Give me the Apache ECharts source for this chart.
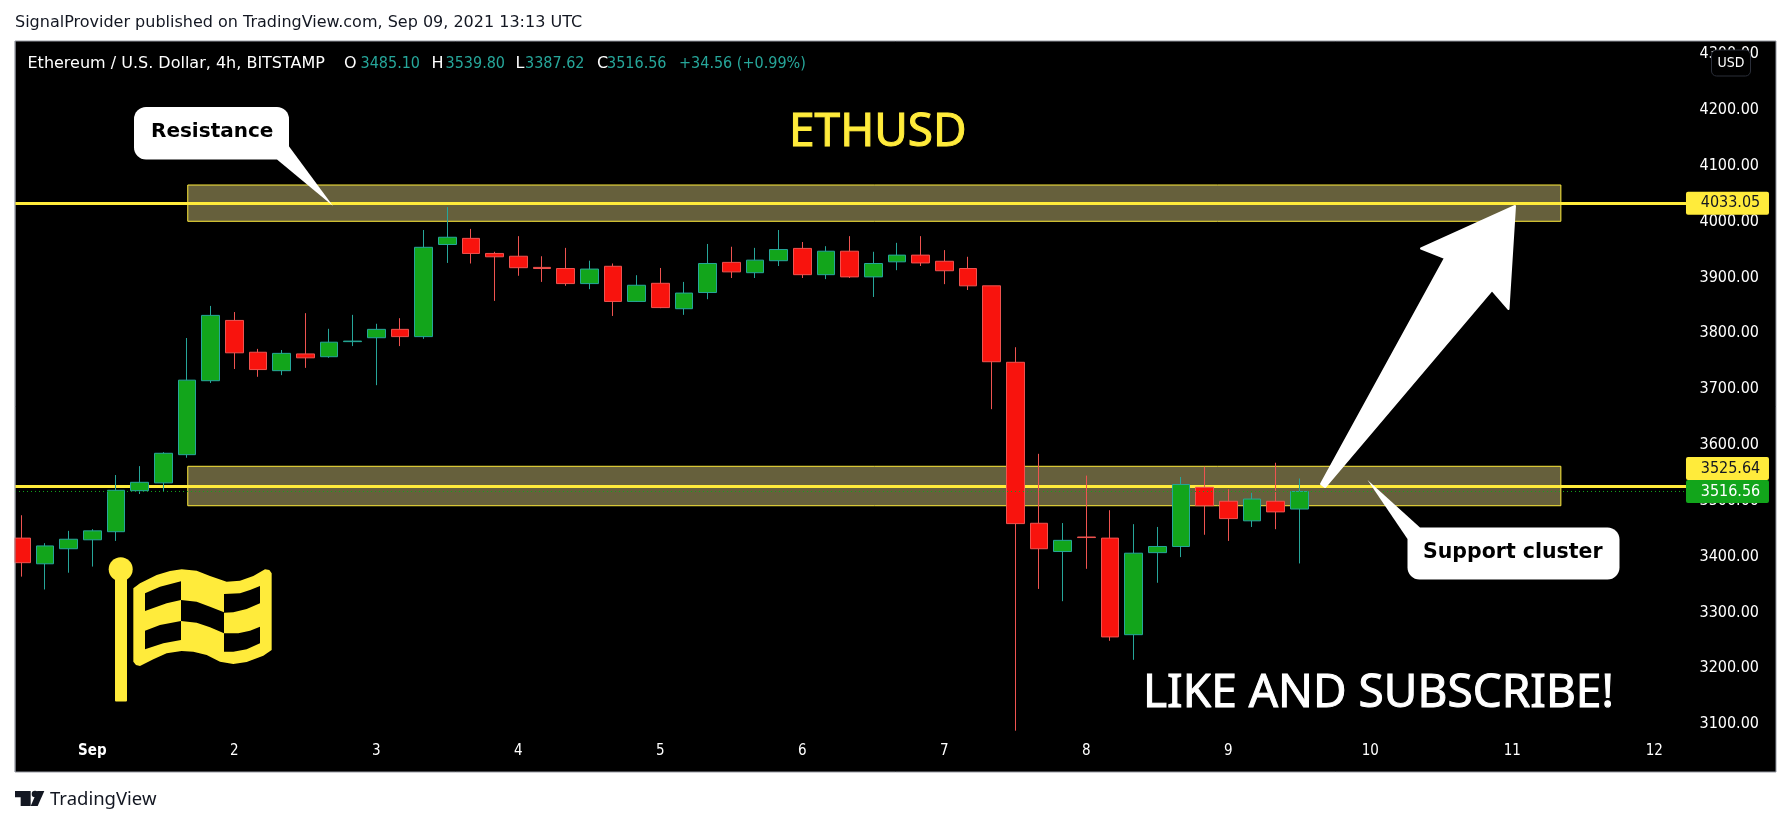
<!DOCTYPE html>
<html><head><meta charset="utf-8">
<style>html,body{margin:0;padding:0;background:#fff}#c{width:1791px;height:826px}</style>
<script src="https://cdn.jsdelivr.net/npm/echarts@6/dist/echarts.min.js"></script>
</head><body><div id="c"></div>
<script>
// 4h candles, first one at 31 Aug 12:00; index = candle number
const opens  = [3433,3387,3414,3430,3444.5,3518,3532,3582.5,3715,3823,3766,3733,3763,3758,3785,3792,3807,3794,3959,3970,3943,3938,3918,3916,3889,3920,3857,3889.5,3844,3873,3927,3908.5,3930,3952,3905,3947,3901,3928,3940,3929,3916,3885,3748,3459.6,3409,3435,3433,3260,3407,3418,3524,3499,3464,3499,3485.10];
const closes = [3389,3419,3431,3446,3518.7,3533,3585,3716,3832,3765,3735,3764,3756,3784,3786,3807,3794,3954,3972,3943,3937,3917.5,3916,3889,3915,3857,3886,3846,3872,3925,3910,3931,3950,3905,3947,3901,3925,3940,3926,3912,3885,3749,3459,3414,3429,3434,3256,3406,3418,3529,3491,3468,3503,3480,3516.56];
const lows   = [3364,3341,3371,3382,3428,3512,3517,3577,3711,3736,3722,3725,3738,3756,3777,3707,3777,3790,3926,3925,3858,3903,3892,3885,3879,3831,3856,3845,3833,3861,3899,3899,3920.5,3899,3897,3899,3865,3913,3920.5,3888,3877.5,3664,3088,3342,3320,3378,3249,3215,3353,3399,3439,3428,3453,3449,3387.62];
const highs  = [3474,3424,3446,3449,3546,3562,3587,3791.5,3849,3838,3772,3770,3836,3808,3833,3817,3827,3985,4026,3987,3946,3974,3938,3953,3930,3925,3904,3917,3892,3960,3955,3953,3985,3963.5,3956,3974,3946,3962,3974,3949,3937,3885,3775,3584,3460,3545,3483,3458,3453,3542.5,3561,3520.5,3514,3568,3539.80];
const dayTicks  = [3,9,15,21,27,33,39,45,51,57,63,69];
const dayLabels = ['Sep','2','3','4','5','6','7','8','9','10','11','12'];
const priceTicks = [3100,3200,3300,3400,3500,3600,3700,3800,3900,4000,4100,4200,4300];
const resistanceLevel = 4033.05;
const supportLevel = 3525.64;
const lastPrice = 3516.56;
const resistanceZone = [4000.6,4065.6];
const supportZone = [3491,3561.7];
const zoneSpan = [7.03,65.05];
const lineEnd = 70.34;
const tagX = 72.09;

const YEL='#ffeb3b', GRN='#12a51b', RED='#f8130d', FONT='"DejaVu Sans"', COND='"DejaVu Sans Condensed","DejaVu Sans"';
const candles = opens.map((o,i)=>[i,o,closes[i],lows[i],highs[i]]);
const zm = (pts,ox,oy)=>pts.map(p=>[p[0]/3+ox,p[1]/3+oy]);
const txt=(x,y,text,o={})=>({type:'text',x,y,z:100,silent:true,style:Object.assign({text,fill:'#fff',font:'16px '+FONT,textAlign:'left',textVerticalAlign:'middle'},o)});
const poly=(points,fill,extra={})=>({type:'polygon',z:extra.z||100,silent:true,shape:{points},style:Object.assign({fill},extra.style||{})});
const num={fill:'#26a69a',font:'16px '+COND};

const flagOuter=[[400,145],[420,130],[470,105],[510,93],[545,88],[590,92],[630,108],[680,125],[720,122],[760,108],[795,88],[808,90],[815,100],[815,330],[790,347],[740,366],[700,372],[660,365],[620,345],[580,335],[545,333],[500,340],[460,358],[420,378],[408,375],[400,365]];
const flagHoles=[
 [[435,160],[480,140],[543,124],[543,180],[500,190],[435,213]],
 [[543,180],[590,185],[630,200],[672,217],[672,280],[630,262],[590,248],[543,243]],
 [[672,162],[720,160],[750,150],[780,138],[780,190],[740,207],[700,217],[672,218]],
 [[435,272],[480,255],[543,243],[543,300],[490,310],[435,328]],
 [[672,280],[715,280],[750,272],[780,260],[780,310],[740,328],[700,335],[672,335]]];

const tagShape='path://M2 0H81Q83 0 83 2V21Q83 23 81 23H2Q0 23 0 21V2Q0 0 2 0Z';
const tag=(val,dy,bg,fg)=>({coord:[tagX,val],value:val,symbol:tagShape,symbolKeepAspect:false,symbolSize:[83,23],symbolOffset:[0,dy],
  itemStyle:{color:bg},label:{show:true,position:'inside',offset:[3,0],formatter:val.toFixed(2),color:fg,fontFamily:COND,fontSize:16}});

const chart=echarts.init(document.getElementById('c'));
chart.setOption({
 animation:false,backgroundColor:'#fff',
 grid:{left:15,top:41,right:15,bottom:54,show:true,backgroundColor:'#000',borderColor:'#9598a1',borderWidth:1},
 xAxis:{type:'value',min:-0.27,max:74.14,splitLine:{show:false},axisLine:{show:false},axisTick:{show:false},
  axisLabel:{inside:true,margin:13,customValues:dayTicks,color:'#fff',fontFamily:COND,fontSize:15,
   formatter:v=>{const s=dayLabels[dayTicks.indexOf(v)];return s==='Sep'?'{b|Sep}':s;},
   rich:{b:{fontWeight:'bold',color:'#fff',fontFamily:COND,fontSize:15}}}},
 yAxis:{type:'value',position:'right',min:3014,max:4323.6,scale:true,splitLine:{show:false},axisLine:{show:false},axisTick:{show:false},
  axisLabel:{inside:true,margin:17,padding:[2,0,0,0],customValues:priceTicks,color:'#fff',fontFamily:COND,fontSize:16,formatter:v=>v.toFixed(2)}},
 series:[
  {type:'candlestick',data:candles,barWidth:18,z:2,silent:true,
   itemStyle:{color:GRN,color0:RED,borderColor:'#26a69a',borderColor0:'#ef5350',borderWidth:1},
   markArea:{silent:true,z:1,itemStyle:{color:'#66603c',borderColor:YEL,borderWidth:1},
    data:[[{coord:[zoneSpan[0],resistanceZone[1]]},{coord:[zoneSpan[1],resistanceZone[0]]}],
          [{coord:[zoneSpan[0],supportZone[1]]},{coord:[zoneSpan[1],supportZone[0]]}]]},
   markLine:{silent:true,z:1.5,symbol:'none',label:{show:false},lineStyle:{color:YEL,width:3,type:'solid'},
    data:[[{coord:[-0.27,resistanceLevel]},{coord:[lineEnd,resistanceLevel]}],
          [{coord:[-0.27,supportLevel]},{coord:[lineEnd,supportLevel]}]]},
   markPoint:{silent:true,z:6,data:[tag(resistanceLevel,0,YEL,'#131722'),tag(supportLevel,-18,YEL,'#131722'),tag(lastPrice,0,GRN,'#fff')]}
  },
  {type:'line',z:3,silent:true,symbol:'none',data:[[-0.27,lastPrice],[lineEnd,lastPrice]],lineStyle:{color:GRN,width:1,type:[1,3]}}
 ],
 graphic:{elements:[
  // margin cover for the first candle, which the plot edge cuts
  {type:'rect',z:90,silent:true,shape:{x:0,y:41,width:14.5,height:731},style:{fill:'#fff'}},
  {type:'line',z:91,silent:true,shape:{x1:15,y1:41,x2:15,y2:772},style:{stroke:'#9598a1',lineWidth:1}},
  txt(15,22.5,'SignalProvider published on TradingView.com, Sep 09, 2021 13:13 UTC',{fill:'#131722'}),
  txt(27.5,64,'Ethereum / U.S. Dollar, 4h, BITSTAMP'),
  txt(344,64,'O'),txt(360.5,64,'3485.10',num),
  txt(431.5,64,'H'),txt(445.5,64,'3539.80',num),
  txt(515.5,64,'L'),txt(525,64,'3387.62',num),
  txt(597,64,'C'),txt(607,64,'3516.56',num),
  txt(679,64,'+34.56 (+0.99%)',num),
  txt(789,132.5,'ETHUSD',{fill:YEL,font:'46px "Noto Sans"',stroke:YEL,lineWidth:1}),
  txt(1143,693.5,'LIKE AND SUBSCRIBE!',{font:'46px "Noto Sans"',stroke:'#fff',lineWidth:1}),
  {type:'rect',z:100,silent:true,shape:{x:1711.5,y:50,width:39,height:26,r:5},style:{fill:'#000',stroke:'#2a2e39',lineWidth:1}},
  txt(1731,63,'USD',{textAlign:'center',font:'14px '+COND}),
  // Resistance callout
  {type:'rect',z:100,silent:true,shape:{x:134,y:107,width:155,height:52.5,r:12},style:{fill:'#fff'}},
  poly([[288,145],[333,206],[277,159.5]],'#fff'),
  txt(151,132,'Resistance',{fill:'#000',font:'bold 20px '+FONT}),
  // Support callout
  {type:'rect',z:100,silent:true,shape:{x:1407.5,y:527.5,width:212,height:52,r:12},style:{fill:'#fff'}},
  poly([[1407.5,539],[1367.5,480],[1420,527.5]],'#fff'),
  txt(1423,552.5,'Support cluster',{fill:'#000',font:'bold 20.5px '+FONT}),
  // big arrow
  poly([[1321,484],[1445,258],[1421,248.5],[1515,206],[1508.5,309],[1492,290],[1325,487]],'#fff',{style:{stroke:'#fff',lineWidth:2,lineJoin:'round'}}),
  // flag
  {type:'circle',z:100,silent:true,shape:{cx:120.7,cy:569.3,r:12},style:{fill:YEL}},
  {type:'rect',z:100,silent:true,shape:{x:115,y:569,width:12,height:132.5,r:1},style:{fill:YEL}},
  poly(zm(flagOuter,0,540),YEL),
  ...flagHoles.map(h=>poly(zm(h,0,540),'#000',{z:101})),
  // TradingView logo
  poly(zm([[45,753],[92,753],[92,798],[62,798],[62,772],[45,772]],0,540),'#131722'),
  {type:'circle',z:100,silent:true,shape:{cx:35,cy:794,r:3.3},style:{fill:'#131722'}},
  poly(zm([[112,753],[133,753],[113,798],[92,798]],0,540),'#131722'),
  txt(50,800,'TradingView',{fill:'#131722',font:'18.5px "Noto Sans"'})
 ]}
});
</script></body></html>
